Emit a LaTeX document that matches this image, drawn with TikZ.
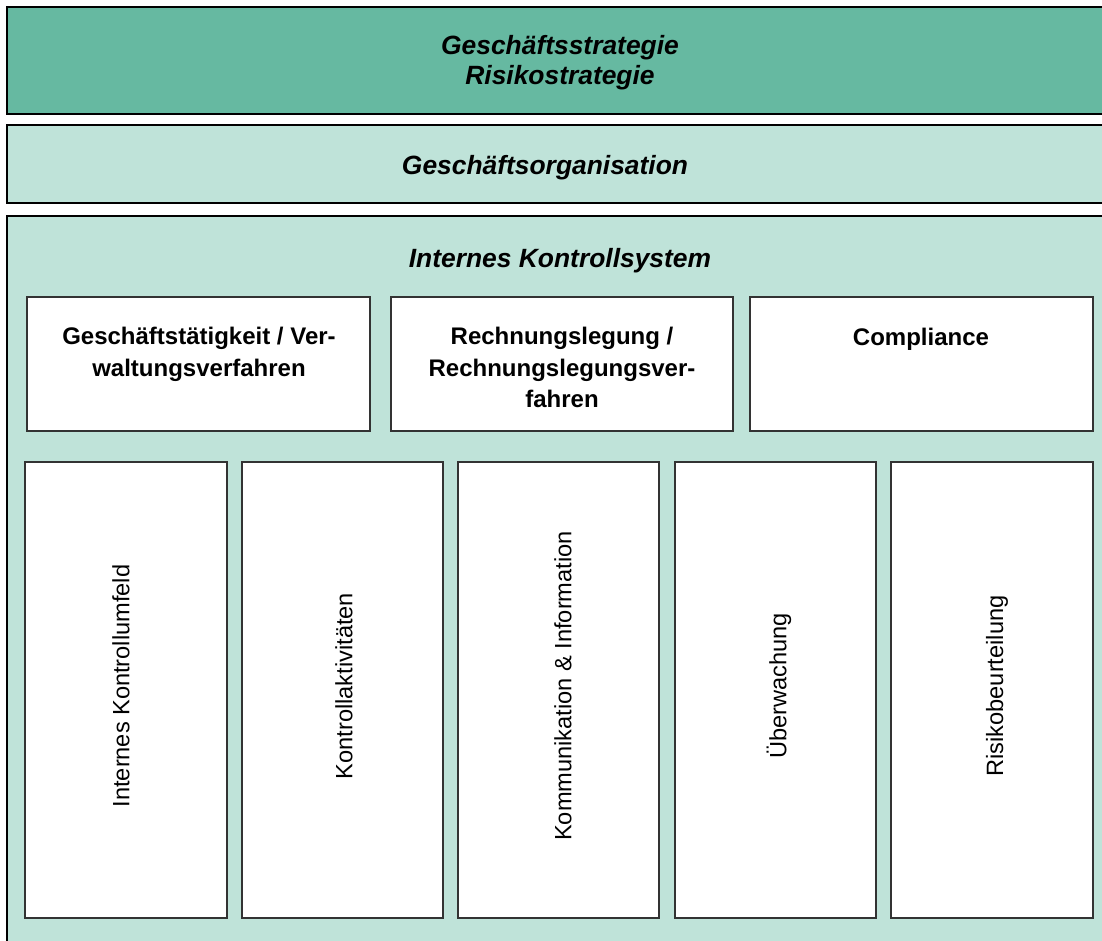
\documentclass[tikz,border=0pt]{standalone}
\usepackage{fontspec}
\setmainfont{Liberation Sans}
\definecolor{darkgreen}{HTML}{66B9A1}
\definecolor{lightgreen}{HTML}{BFE3D9}
\definecolor{edgegray}{HTML}{333333}
\begin{document}
\begin{tikzpicture}[x=1pt,y=-1pt,
  band/.style={draw=black,line width=2pt},
  inbox/.style={draw=edgegray,fill=white,line width=1.3pt},
  titletext/.style={font=\fontsize{26.4}{30}\selectfont\bfseries\itshape,align=center,inner sep=0pt},
  boxtext/.style={font=\fontsize{24}{31.5}\selectfont\bfseries,align=center,inner sep=0pt},
  vtext/.style={font=\fontsize{23.6}{28}\selectfont,rotate=90,inner sep=0pt}]
\useasboundingbox (0,0) rectangle (1102,941);
\clip (0,0) rectangle (1102,941);
% bands
\draw[band,fill=darkgreen] (7,7) rectangle (1115,114);
\draw[band,fill=lightgreen] (7,125) rectangle (1115,203);
\draw[band,fill=lightgreen] (7,216) rectangle (1115,960);
\node[titletext,anchor=north] (strat) at (560,35) {Geschäftsstrategie\\Risikostrategie};
\node[titletext,anchor=base] (org) at (545,175) {Geschäftsorganisation};
\node[titletext,anchor=base] (iks) at (560,267) {Internes Kontrollsystem};
% upper boxes
\draw[inbox] (27,297) rectangle (370,431);
\draw[inbox] (391,297) rectangle (733,431);
\draw[inbox] (750,297) rectangle (1093,431);
\node[boxtext,anchor=north] (b1) at (199,327) {Geschäftstätigkeit / Ver-\\waltungsverfahren};
\node[boxtext,anchor=north] (b2) at (562,327) {Rechnungslegung /\\Rechnungslegungsver-\\fahren};
\node[boxtext,anchor=base] (b3) at (921,345) {Compliance};
% lower boxes
\draw[inbox] (25,462) rectangle (227,918);
\draw[inbox] (242,462) rectangle (443,918);
\draw[inbox] (458,462) rectangle (659,918);
\draw[inbox] (675,462) rectangle (876,918);
\draw[inbox] (891,462) rectangle (1093,918);
\node[vtext] (v1) at (121,686) {Internes Kontrollumfeld};
\node[vtext] (v2) at (344,686) {Kontrollaktivitäten};
\node[vtext] (v3) at (563,686) {Kommunikation \& Information};
\node[vtext] (v4) at (779,686) {Überwachung};
\node[vtext] (v5) at (997,686) {Risikobeurteilung};
\end{tikzpicture}
\end{document}
